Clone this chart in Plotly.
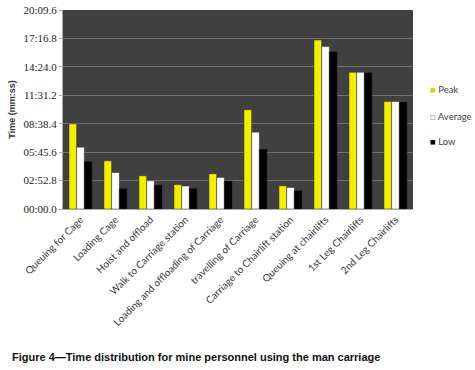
import plotly.graph_objects as go

categories = ["Queuing for Cage", "Loading Cage", "Hoist and offload", "Walk to Carriage station",
              "Loading and offloading of Carriage", "travelling of Carriage",
              "Carriage to Chairlift station", "Queuing at chairlifts",
              "1st Leg Chairlifts", "2nd Leg Chairlifts"]
# seconds
peak = [518, 293, 202, 148, 214, 603, 141, 1027, 831, 653]
average = [376, 222, 172, 140, 192, 467, 131, 987, 831, 653]
low = [289, 123, 146, 125, 170, 364, 111, 956, 828, 650]

tick_vals = [0, 172.8, 345.6, 518.4, 691.2, 864.0, 1036.8, 1209.6]
tick_text = ["00:00.0", "02:52.8", "05:45.6", "08:38.4", "11:31.2", "14:24.0", "17:16.8", "20:09.6"]

series_names = ["Peak", "Average", "Low"]
series_values = [peak, average, low]
series_colors = ["#f2ee00", "#ffffff", "#000000"]
legend_glyphs = ['<span style="color:#d8d400">■</span>', '<span style="color:#999">□</span>',
                 '<span style="color:#000">■</span>']
legend_y = [0.598, 0.467, 0.337]

fig = go.Figure()
for name, vals, col in zip(series_names, series_values, series_colors):
    fig.add_trace(go.Bar(x=categories, y=vals, name=name, showlegend=False,
                         marker=dict(color=col, line=dict(color="#2a2a2a", width=0.5))))

annotations = [dict(text="<b>Figure 4\u2014Time distribution for mine personnel using the man carriage</b>",
                    xref="paper", yref="paper", x=-0.151, y=-0.744, xanchor="left", yanchor="middle",
                    showarrow=False, font=dict(family="Liberation Sans", size=11, color="#111"))]
for name, glyph, ly in zip(series_names, legend_glyphs, legend_y):
    annotations.append(dict(text=glyph + " " + name, xref="paper", yref="paper", x=1.043, y=ly,
                            xanchor="left", yanchor="middle", showarrow=False,
                            font=dict(family="Lato", size=9.5, color="#444")))

fig.update_layout(
    width=475, height=370,
    margin=dict(l=63, r=62, t=10, b=161, autoexpand=False),
    paper_bgcolor="white",
    plot_bgcolor="#404040",
    barmode="group", bargap=0.34, bargroupgap=0,
    showlegend=False,
    font=dict(family="Liberation Sans", size=9, color="#333"),
    annotations=annotations,
)
fig.update_yaxes(range=[0, 1209.6], tickvals=tick_vals, ticktext=tick_text, automargin=False,
                 gridcolor="#707070", gridwidth=1, showline=True, linecolor="#aaa",
                 zeroline=False, ticks="outside", ticklen=3, tickcolor="#aaa",
                 tickfont=dict(family="Liberation Serif", size=11, color="#222"),
                 title=dict(text="<b>Time (mm:ss)</b>", font=dict(family="Liberation Sans", size=9, color="#333"), standoff=6))
fig.update_xaxes(tickangle=-45, showline=True, linecolor="#aaa", automargin=False,
                 tickfont=dict(family="Lato", size=10, color="#3a3a3a"))

fig.write_html("out.html", config={"displayModeBar": False},
               post_script="document.body.style.margin='0';")
